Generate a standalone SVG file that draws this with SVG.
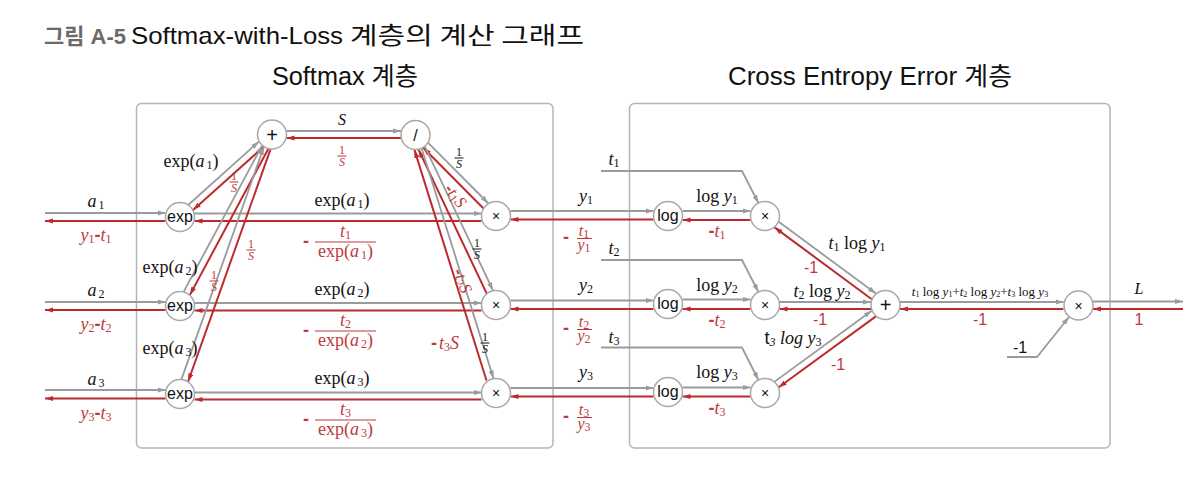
<svg xmlns="http://www.w3.org/2000/svg" width="1204" height="478" viewBox="0 0 1204 478">
<style>
.box{fill:none;stroke:#b5b5b5;stroke-width:1.5}
.nd circle{fill:#fff;stroke:#a8a8a8;stroke-width:1.5}
.nl{font-family:"Liberation Sans",sans-serif;font-size:16px;fill:#111;text-anchor:middle}
.op{font-size:14px}
.pl{font-size:20px}
.g{stroke:#9b9b9b;stroke-width:1.8;fill:none;marker-end:url(#ag)}
.r{stroke:#bd2a2e;stroke-width:2;fill:none;marker-end:url(#ar)}
.m{font-family:"Liberation Serif",serif;font-size:18px;fill:#111;text-anchor:middle}
.mr{font-family:"Liberation Serif",serif;font-size:18px;fill:#c0393b;text-anchor:middle}
.fs{font-size:12px}
.f16{font-size:16px}
.i{font-style:italic}
.s{font-size:12px}
.sn{font-family:"Liberation Sans",sans-serif}
.bar{stroke-width:1}
.bk{stroke:#111}
.rd{stroke:#c0393b}
.t{font-family:"Liberation Sans","Noto Sans CJK KR",sans-serif;font-size:25px;fill:#111}
.k{font-family:"Noto Sans CJK KR","Liberation Sans",sans-serif;font-size:24px;fill:#111}
</style>
<defs>
<marker id="ag" markerUnits="userSpaceOnUse" markerWidth="9" markerHeight="7" refX="8" refY="3" orient="auto"><path d="M0,0.4 L8,3 L0,5.6 z" fill="#9b9b9b"/></marker>
<marker id="ar" markerUnits="userSpaceOnUse" markerWidth="9" markerHeight="7" refX="8" refY="3" orient="auto"><path d="M0,0.4 L8,3 L0,5.6 z" fill="#bd2a2e"/></marker>
</defs>
<rect width="1204" height="478" fill="#fff"/>

<!-- titles -->
<text class="t" x="44" y="44" style="font-size:22px;font-weight:bold;fill:#6a6a6a">그림 A-5</text>
<text class="t" x="131" y="44" style="font-size:24px" textLength="212" lengthAdjust="spacingAndGlyphs">Softmax-with-Loss</text>
<text class="k" x="350" y="44" textLength="234" lengthAdjust="spacingAndGlyphs">계층의 계산 그래프</text>
<text class="t" x="272" y="85" textLength="146" lengthAdjust="spacingAndGlyphs">Softmax 계층</text>
<text class="t" x="728" y="85" textLength="284" lengthAdjust="spacingAndGlyphs">Cross Entropy Error 계층</text>

<rect class="box" x="136.5" y="103.5" width="416.5" height="344.5" rx="5"/>
<rect class="box" x="629.5" y="103.5" width="480.5" height="344.5" rx="5"/>

<g id="connectors">
<path class="g" d="M45,213 H165.5"/><path class="r" d="M165.5,221 H45"/>
<path class="g" d="M45,302 H165.5"/><path class="r" d="M165.5,310 H45"/>
<path class="g" d="M45,390 H165.5"/><path class="r" d="M165.5,398.5 H45"/>
<path class="g" d="M194.5,213.5 H481.5"/><path class="r" d="M481.5,221 H194.5"/>
<path class="g" d="M194.5,303 H481.5"/><path class="r" d="M481.5,310.5 H194.5"/>
<path class="g" d="M194.5,392.5 H481.5"/><path class="r" d="M481.5,399.5 H194.5"/>
<path class="g" d="M188.46,204.73 L258.88,141.57"/><path class="r" d="M263.54,146.77 L193.12,209.93"/>
<path class="g" d="M183.78,291.56 L262.06,145.62"/><path class="r" d="M268.22,148.94 L189.94,294.88"/>
<path class="g" d="M181.54,379.16 L263.86,147"/><path class="r" d="M270.46,149.34 L188.14,381.5"/>
<path class="g" d="M286.5,131 H401"/><path class="r" d="M401,138 H286.5"/>
<path class="g" d="M428.2,142.81 L488.26,203.25"/><path class="r" d="M483.3,208.19 L423.24,147.75"/>
<path class="g" d="M424.87,146.61 L492.95,290.39"/><path class="r" d="M486.63,293.39 L418.55,149.61"/>
<path class="g" d="M421.5,148 L493.5,378.5"/><path class="r" d="M486.5,380.5 L414.5,150"/>
<path class="g" d="M510.5,211 H653.5"/><path class="r" d="M653.5,219.5 H510.5"/>
<path class="g" d="M510.5,300.5 H653.5"/><path class="r" d="M653.5,309 H510.5"/>
<path class="g" d="M510.5,388 H653.5"/><path class="r" d="M653.5,396.5 H510.5"/>
<path class="g" d="M682.5,211 H750.5"/><path class="r" d="M750.5,220 H682.5"/>
<path class="g" d="M682.5,299.5 H750.5"/><path class="r" d="M750.5,309 H682.5"/>
<path class="g" d="M682.5,387.5 H750.5"/><path class="r" d="M750.5,396.5 H682.5"/>
<path class="g" d="M601,171 H742 L758.4,203"/>
<path class="g" d="M601,260 H742 L758.4,292"/>
<path class="g" d="M601,347.5 H742 L758.4,380"/>
<path class="g" d="M778.74,221.8 L875.92,293.58"/><path class="r" d="M871.76,299.2 L774.58,227.42"/>
<path class="g" d="M779.5,302 H871"/><path class="r" d="M871,309 H779.5"/>
<path class="g" d="M774.64,381.62 L871.72,310.72"/><path class="r" d="M875.86,316.38 L778.78,387.28"/>
<path class="g" d="M900,302 H1063.5"/><path class="r" d="M1063.5,309 H900"/>
<path class="g" d="M1093,301.5 H1183"/><path class="r" d="M1183,309 H1093"/>
<path class="g" d="M1007,357 H1037 L1069,317"/>
</g>

<g id="exp1" class="nd"><circle cx="180" cy="217" r="14.5"/><text class="nl" x="180" y="221.5">exp</text></g>
<g id="exp2" class="nd"><circle cx="180" cy="306" r="14.5"/><text class="nl" x="180" y="310.5">exp</text></g>
<g id="exp3" class="nd"><circle cx="180" cy="394" r="14.5"/><text class="nl" x="180" y="398.5">exp</text></g>
<g id="plus" class="nd"><circle cx="272" cy="134.5" r="14.5"/><text class="nl pl" x="272" y="141.5">+</text></g>
<g id="div" class="nd"><circle cx="415.5" cy="135" r="14.5"/><text class="nl" x="415.5" y="140.5">/</text></g>
<g id="mul1" class="nd"><circle cx="496" cy="216" r="14.5"/><text class="nl op" x="496" y="221">×</text></g>
<g id="mul2" class="nd"><circle cx="496" cy="305" r="14.5"/><text class="nl op" x="496" y="310">×</text></g>
<g id="mul3" class="nd"><circle cx="496" cy="393" r="14.5"/><text class="nl op" x="496" y="398">×</text></g>
<g id="log1" class="nd"><circle cx="668" cy="216" r="14.5"/><text class="nl" x="668" y="220.5">log</text></g>
<g id="log2" class="nd"><circle cx="668" cy="304" r="14.5"/><text class="nl" x="668" y="308.5">log</text></g>
<g id="log3" class="nd"><circle cx="668" cy="392" r="14.5"/><text class="nl" x="668" y="396.5">log</text></g>
<g id="tmul1" class="nd"><circle cx="765" cy="216" r="14.5"/><text class="nl op" x="765" y="221">×</text></g>
<g id="tmul2" class="nd"><circle cx="765" cy="305" r="14.5"/><text class="nl op" x="765" y="310">×</text></g>
<g id="tmul3" class="nd"><circle cx="765" cy="393" r="14.5"/><text class="nl op" x="765" y="398">×</text></g>
<g id="plusR" class="nd"><circle cx="885.5" cy="305" r="14.5"/><text class="nl pl" x="885.5" y="312">+</text></g>
<g id="mulF" class="nd"><circle cx="1078.5" cy="305.5" r="14.5"/><text class="nl op" x="1078.5" y="310.5">×</text></g>

<g id="labels">
<text class="m" x="96" y="207"><tspan class="i">a</tspan><tspan class="s" dx="2" dy="2">1</tspan></text>
<text class="mr" x="96" y="241"><tspan class="i">y</tspan><tspan class="s" dy="2">1</tspan><tspan class="sn" font-weight="bold" dy="-2">-</tspan><tspan class="i">t</tspan><tspan class="s" dy="2">1</tspan></text>
<text class="m" x="96" y="296"><tspan class="i">a</tspan><tspan class="s" dx="2" dy="2">2</tspan></text>
<text class="mr" x="96" y="330"><tspan class="i">y</tspan><tspan class="s" dy="2">2</tspan><tspan class="sn" font-weight="bold" dy="-2">-</tspan><tspan class="i">t</tspan><tspan class="s" dy="2">2</tspan></text>
<text class="m" x="96" y="385"><tspan class="i">a</tspan><tspan class="s" dx="2" dy="2">3</tspan></text>
<text class="mr" x="96" y="419"><tspan class="i">y</tspan><tspan class="s" dy="2">3</tspan><tspan class="sn" font-weight="bold" dy="-2">-</tspan><tspan class="i">t</tspan><tspan class="s" dy="2">3</tspan></text>

<text class="m" x="191" y="167">exp(<tspan class="i">a</tspan><tspan class="s" dx="2" dy="2">1</tspan><tspan dy="-2">)</tspan></text>
<text class="m" x="170" y="273">exp(<tspan class="i">a</tspan><tspan class="s" dx="2" dy="2">2</tspan><tspan dy="-2">)</tspan></text>
<text class="m" x="170" y="354">exp(<tspan class="i">a</tspan><tspan class="s" dx="2" dy="2">3</tspan><tspan dy="-2">)</tspan></text>

<g><text class="mr fs" x="234" y="180">1</text><line class="bar rd" x1="229.5" y1="182" x2="238.5" y2="182"/><text class="mr fs i" x="234" y="191.5">S</text></g>
<g><text class="mr fs" x="214" y="279">1</text><line class="bar rd" x1="209.5" y1="281" x2="218.5" y2="281"/><text class="mr fs i" x="214" y="290.5">S</text></g>
<g><text class="mr fs" x="251" y="248">1</text><line class="bar rd" x1="246.5" y1="250" x2="255.5" y2="250"/><text class="mr fs i" x="251" y="259.5">S</text></g>

<text class="m i f16" x="342" y="125">S</text>
<g><text class="mr fs" x="342" y="154">1</text><line class="bar rd" x1="337.5" y1="156" x2="346.5" y2="156"/><text class="mr fs i" x="342" y="165.5">S</text></g>

<text class="m" x="342" y="206">exp(<tspan class="i">a</tspan><tspan class="s" dx="2" dy="2">1</tspan><tspan dy="-2">)</tspan></text>
<text class="m" x="342" y="295">exp(<tspan class="i">a</tspan><tspan class="s" dx="2" dy="2">2</tspan><tspan dy="-2">)</tspan></text>
<text class="m" x="342" y="384">exp(<tspan class="i">a</tspan><tspan class="s" dx="2" dy="2">3</tspan><tspan dy="-2">)</tspan></text>

<g><text class="mr sn" font-weight="bold" x="306" y="247">-</text><text class="mr" x="345.5" y="237"><tspan class="i">t</tspan><tspan class="s" dy="2">1</tspan></text><line class="bar rd" x1="315" y1="242" x2="376" y2="242"/><text class="mr" x="345.5" y="257">exp(<tspan class="i">a</tspan><tspan class="s" dx="2" dy="2">1</tspan><tspan dy="-2">)</tspan></text></g>
<g><text class="mr sn" font-weight="bold" x="306" y="336">-</text><text class="mr" x="345.5" y="326"><tspan class="i">t</tspan><tspan class="s" dy="2">2</tspan></text><line class="bar rd" x1="315" y1="331" x2="376" y2="331"/><text class="mr" x="345.5" y="346">exp(<tspan class="i">a</tspan><tspan class="s" dx="2" dy="2">2</tspan><tspan dy="-2">)</tspan></text></g>
<g><text class="mr sn" font-weight="bold" x="306" y="425">-</text><text class="mr" x="345.5" y="415"><tspan class="i">t</tspan><tspan class="s" dy="2">3</tspan></text><line class="bar rd" x1="315" y1="420" x2="376" y2="420"/><text class="mr" x="345.5" y="435">exp(<tspan class="i">a</tspan><tspan class="s" dx="2" dy="2">3</tspan><tspan dy="-2">)</tspan></text></g>

<g><text class="m fs" x="459" y="156">1</text><line class="bar bk" x1="454.5" y1="158" x2="463.5" y2="158"/><text class="m fs i" x="459" y="167.5">S</text></g>
<g><text class="m fs" x="477" y="247">1</text><line class="bar bk" x1="472.5" y1="249" x2="481.5" y2="249"/><text class="m fs i" x="477" y="258.5">S</text></g>
<g><text class="m fs" x="485" y="341">1</text><line class="bar bk" x1="480.5" y1="343" x2="489.5" y2="343"/><text class="m fs i" x="485" y="352.5">S</text></g>

<text class="mr" style="font-size:17px" transform="translate(455,196) rotate(52)" y="5"><tspan class="sn" font-weight="bold">-</tspan><tspan class="i">t</tspan><tspan class="s" dy="2">1</tspan><tspan class="i" dy="-2">S</tspan></text>
<text class="mr" style="font-size:17px" transform="translate(462,281) rotate(68)" y="5"><tspan class="sn" font-weight="bold">-</tspan><tspan class="i">t</tspan><tspan class="s" dy="2">2</tspan><tspan class="i" dy="-2">S</tspan></text>
<text class="mr" x="445" y="349"><tspan class="sn" font-weight="bold">-</tspan><tspan class="i" dx="2">t</tspan><tspan class="s" dy="2">3</tspan><tspan class="i" dy="-2">S</tspan></text>

<text class="m" x="586" y="202"><tspan class="i">y</tspan><tspan class="s" dy="2">1</tspan></text>
<text class="m" x="586" y="291"><tspan class="i">y</tspan><tspan class="s" dy="2">2</tspan></text>
<text class="m" x="586" y="378"><tspan class="i">y</tspan><tspan class="s" dy="2">3</tspan></text>
<g><text class="mr sn" font-weight="bold" x="566" y="243">-</text><text class="mr f16" x="584" y="236"><tspan class="i">t</tspan><tspan class="s" dy="2">1</tspan></text><line class="bar rd" x1="577" y1="238.5" x2="592" y2="238.5"/><text class="mr f16" x="584" y="250"><tspan class="i">y</tspan><tspan class="s" dy="2">1</tspan></text></g>
<g><text class="mr sn" font-weight="bold" x="566" y="334">-</text><text class="mr f16" x="584" y="327"><tspan class="i">t</tspan><tspan class="s" dy="2">2</tspan></text><line class="bar rd" x1="577" y1="329.5" x2="592" y2="329.5"/><text class="mr f16" x="584" y="341"><tspan class="i">y</tspan><tspan class="s" dy="2">2</tspan></text></g>
<g><text class="mr sn" font-weight="bold" x="566" y="422">-</text><text class="mr f16" x="584" y="415"><tspan class="i">t</tspan><tspan class="s" dy="2">3</tspan></text><line class="bar rd" x1="577" y1="417.5" x2="592" y2="417.5"/><text class="mr f16" x="584" y="429"><tspan class="i">y</tspan><tspan class="s" dy="2">3</tspan></text></g>

<text class="m" x="614" y="165"><tspan class="i">t</tspan><tspan class="s" dy="2">1</tspan></text>
<text class="m" x="614" y="254"><tspan class="i">t</tspan><tspan class="s" dy="2">2</tspan></text>
<text class="m" x="614" y="343"><tspan class="i">t</tspan><tspan class="s" dy="2">3</tspan></text>

<text class="m" x="717" y="202">log <tspan class="i">y</tspan><tspan class="s" dy="2">1</tspan></text>
<text class="m" x="717" y="291">log <tspan class="i">y</tspan><tspan class="s" dy="2">2</tspan></text>
<text class="m" x="717" y="378">log <tspan class="i">y</tspan><tspan class="s" dy="2">3</tspan></text>
<text class="mr" x="717" y="237"><tspan class="sn" font-weight="bold">-</tspan><tspan class="i">t</tspan><tspan class="s" dy="2">1</tspan></text>
<text class="mr" x="717" y="326"><tspan class="sn" font-weight="bold">-</tspan><tspan class="i">t</tspan><tspan class="s" dy="2">2</tspan></text>
<text class="mr" x="717" y="414"><tspan class="sn" font-weight="bold">-</tspan><tspan class="i">t</tspan><tspan class="s" dy="2">3</tspan></text>

<text class="m" x="857" y="249"><tspan class="i">t</tspan><tspan class="s" dy="2">1</tspan><tspan dy="-2"> log </tspan><tspan class="i">y</tspan><tspan class="s" dy="2">1</tspan></text>
<text class="m" x="822" y="297"><tspan class="i">t</tspan><tspan class="s" dy="2">2</tspan><tspan dy="-2"> log </tspan><tspan class="i">y</tspan><tspan class="s" dy="2">2</tspan></text>
<text class="m" x="793" y="344"><tspan class="sn">t</tspan><tspan class="s i" dy="2">3</tspan><tspan class="i" dy="-2"> log y</tspan><tspan class="s" dy="2">3</tspan></text>
<text class="mr sn f16" x="811" y="273">-1</text>
<text class="mr sn f16" x="820" y="325">-1</text>
<text class="mr sn f16" x="838" y="370">-1</text>

<text class="m" x="980" y="296" style="font-size:13px"><tspan class="i">t</tspan><tspan font-size="8" dy="1">1</tspan><tspan dy="-1"> log </tspan><tspan class="i">y</tspan><tspan font-size="8" dy="1">1</tspan><tspan dy="-1">+</tspan><tspan class="i">t</tspan><tspan font-size="8" dy="1">2</tspan><tspan dy="-1"> log </tspan><tspan class="i">y</tspan><tspan font-size="8" dy="1">2</tspan><tspan dy="-1">+</tspan><tspan class="i">t</tspan><tspan font-size="8" dy="1">3</tspan><tspan dy="-1"> log </tspan><tspan class="i">y</tspan><tspan font-size="8" dy="1">3</tspan></text>
<text class="mr sn f16" x="980" y="325">-1</text>
<text class="m i f16" x="1139" y="294">L</text>
<text class="mr sn f16" x="1139" y="325">1</text>
<text class="m sn f16" x="1020" y="353">-1</text>
</g>
</svg>
